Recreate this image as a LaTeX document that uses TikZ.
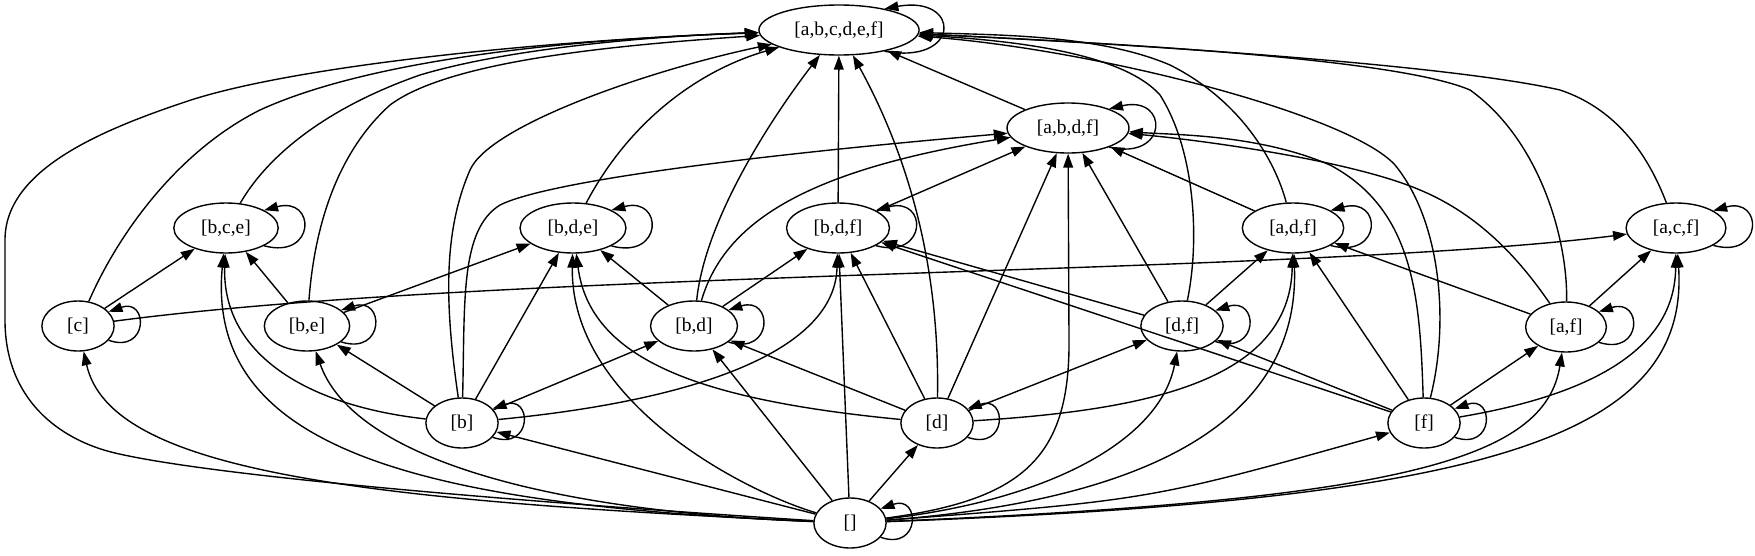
\documentclass[tikz,border=0pt]{standalone}
\usepackage{fontspec}
\setmainfont{Liberation Serif}
\usetikzlibrary{shapes.geometric, arrows.meta}
\tikzset{set/.style={draw, ellipse, line width=1pt, minimum width=52pt, minimum height=36pt, inner xsep=8.7pt, inner ysep=2pt}}
\tikzset{incl/.style={line width=1pt, -{Triangle[length=10pt, width=7pt]}}}

\begin{document}
\begin{tikzpicture}[x=0.72pt, y=-0.72pt, font=\fontsize{14}{17}\selectfont]
                \useasboundingbox (0,0) rectangle (1755,555);

                \node[set] (T) at (839,30) {[a,b,c,d,e,f]};
                \node[set] (A) at (1068,128) {[a,b,d,f]};
                \node[set] (BCE) at (226,228) {[b,c,e]};
                \node[set] (BDE) at (573,228) {[b,d,e]};
                \node[set] (BDF) at (838,228) {[b,d,f]};
                \node[set] (ADF) at (1293,228) {[a,d,f]};
                \node[set] (ACF) at (1676,228) {[a,c,f]};
                \node[set] (C) at (78,326) {[c]};
                \node[set] (BE) at (307,326) {[b,e]};
                \node[set] (BD) at (694,326) {[b,d]};
                \node[set] (DF) at (1182,326) {[d,f]};
                \node[set] (AF) at (1566,327) {[a,f]};
                \node[set] (B) at (462,423) {[b]};
                \node[set] (D) at (937,423) {[d]};
                \node[set] (F) at (1424,423) {[f]};
                \node[set] (E) at (850,523) {[]};

                \foreach \n/\l in {T/77, A/60, BCE/52, BDE/52, BDF/52, ADF/52, ACF/50, C/40, BE/44, BD/45, DF/44, AF/44, B/40, D/40, F/40, E/40} {
                    \draw[incl] (\n.-25) .. controls +(\l,14) and +(\l,-14) .. (\n.25);
                }

                \foreach \s/\t in {A/T, BDF/T, BD/BDE, BD/BDF, BE/BCE, C/BCE, BE/BDE, B/BE, B/BD, B/BDE, E/BD, E/D, E/BDF, E/B, D/BD, D/BDF, D/A, D/DF, DF/ADF, DF/A, DF/BDF, F/DF, F/AF, F/ADF, F/BDF, AF/ADF, AF/ACF, BDF/A, ADF/A} {
                    \draw[incl] (\s) -- (\t);
                }

                \draw[incl] (E) .. controls (600,507) and (230,480) .. (115,453) .. controls (60,440) and (5,400) .. (5,320) -- (5,240) .. controls (5,170) and (100,130) .. (191,100) .. controls (300,65) and (550,40) .. (T);
                \draw[incl] (E) .. controls (350,500) and (110,470) .. (C);
                \draw[incl] (E) .. controls (520,510) and (350,450) .. (BE);
                \draw[incl] (E) .. controls (420,505) and (205,450) .. (BCE);
                \draw[incl] (E) .. controls (740,490) and (570,400) .. (BDE);
                \draw[incl] (E) .. controls (1020,500) and (1070,460) .. (1069,340) -- (A);
                \draw[incl] (E) .. controls (1150,500) and (1300,420) .. (ADF);
                \draw[incl] (E) .. controls (1050,500) and (1160,440) .. (DF);
                \draw[incl] (E) .. controls (1150,500) .. (F);
                \draw[incl] (E) .. controls (1400,500) and (1545,460) .. (AF);
                \draw[incl] (E) .. controls (1480,500) and (1690,440) .. (ACF);

                \draw[incl] (B) .. controls (444,300) and (444,230) .. (470,170) .. controls (490,125) and (650,70) .. (T);
                \draw[incl] (B) .. controls (465,300) and (460,230) .. (500,205) .. controls (540,185) and (700,160) .. (A);
                \draw[incl] (B) .. controls (300,405) and (222,350) .. (BCE);
                \draw[incl] (B) .. controls (700,400) and (835,350) .. (BDF);

                \draw[incl] (D) .. controls (700,400) and (590,360) .. (BDE);
                \draw[incl] (D) .. controls (1150,410) and (1290,380) .. (ADF);
                \draw[incl] (D) .. controls (940,260) and (905,150) .. (T);

                \draw[incl] (F) .. controls (1590,395) and (1675,350) .. (ACF);
                \draw[incl] (F) .. controls (1450,320) and (1440,220) .. (1395,165) .. controls (1350,115) and (1100,50) .. (T);
                \draw[incl] (F) .. controls (1420,300) and (1415,210) .. (1330,165) .. controls (1260,135) and (1180,135) .. (A);

                \draw[incl] (AF) .. controls (1568,240) and (1540,140) .. (1470,90) .. controls (1400,60) and (1150,45) .. (T);
                \draw[incl] (AF) .. controls (1520,260) and (1480,215) .. (1420,190) .. controls (1350,160) and (1200,140) .. (A);
                \draw[incl] (ACF) .. controls (1650,160) and (1620,110) .. (1560,90) .. controls (1450,65) and (1150,45) .. (T);
                \draw[incl] (ADF) .. controls (1275,160) and (1240,100) .. (1170,65) .. controls (1100,35) and (1000,35) .. (T);
                \draw[incl] (DF) .. controls (1200,240) and (1195,150) .. (1160,95) .. controls (1120,50) and (1000,40) .. (T);

                \draw[incl] (BD) .. controls (705,220) and (770,120) .. (T);
                \draw[incl] (BD) .. controls (725,220) and (810,170) .. (A);
                \draw[incl] (BCE) .. controls (265,160) and (320,110) .. (420,75) .. controls (520,45) and (680,35) .. (T);
                \draw[incl] (BDE) .. controls (630,120) and (700,70) .. (T);
                \draw[incl] (BE) .. controls (315,220) and (340,150) .. (390,105) .. controls (450,60) and (620,45) .. (T);
                \draw[incl] (C) .. controls (120,230) and (180,150) .. (260,110) .. controls (380,55) and (600,38) .. (T);
                \draw[incl] (C) .. controls (500,270) and (1300,275) .. (ACF);
            \end{tikzpicture}
\end{document}
